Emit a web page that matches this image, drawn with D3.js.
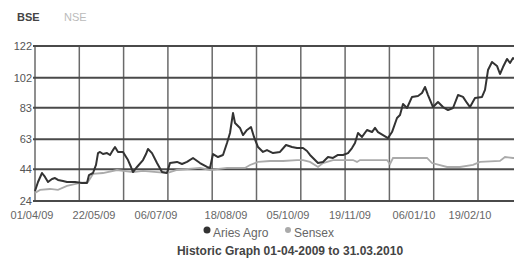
<!DOCTYPE html>
<html>
<head>
<meta charset="utf-8">
<script src="https://cdn.jsdelivr.net/npm/d3@7"></script>
<style>
  body { margin: 0; background: #fff; }
  svg { display: block; font-family: "Liberation Sans", Arial, sans-serif; }
</style>
</head>
<body>
<svg id="chart" width="514" height="259"></svg>
<script>
// trading-day index of each sample, and the value
const ariesIdx = [0,1.5,3.5,5,6.5,8.5,10,11.5,14,16,20,23.5,26,27,29,30.5,31.5,32.5,34,36,37.5,39,40,41.5,44,46.5,48,49,51,54,55.5,56.5,58.5,61,63.5,66,67.5,71,73.5,76,79,82.5,86,87.5,89,91.5,94,96,97.5,99,100,102.5,104,106,108,109.5,111.5,114,116,119,122.5,125.5,128.5,131,134,136,137.5,140,141.5,144,146.5,149,151.5,154,156.5,158.5,160,161.5,163.5,166,168.5,170,171.5,174,176.5,178.5,181,182.5,184,186,188.5,191.5,193.5,195,196.5,199,201.5,204,206.5,209,211.5,214,216,217.5,220,223.5,225,226.5,228.5,231,232.5,234,236,237.5,239,240.5];
const ariesVal = [30.3,36.0,41.7,39.2,36.0,37.9,38.5,37.3,36.6,36.0,36.0,35.4,35.4,40.4,41.7,46.8,54.3,55.0,53.7,54.3,53.1,56.2,58.1,55.0,55.0,49.9,45.5,42.3,45.5,49.9,53.7,56.9,54.3,48.0,42.3,41.7,48.0,48.7,47.4,48.7,51.2,48.0,45.5,44.9,53.7,51.8,53.1,60.7,67.0,79.6,73.3,70.2,65.7,68.9,70.8,64.5,58.1,55.0,56.2,54.3,55.0,59.4,58.1,57.5,57.5,55.6,53.1,49.9,48.0,48.7,51.8,51.2,53.1,53.1,54.3,57.5,60.7,67.0,64.5,68.9,67.6,70.2,67.6,65.7,63.8,67.6,76.5,78.4,85.3,82.8,89.8,90.4,92.3,96.1,91.0,83.4,86.6,83.4,81.5,82.8,91.0,89.8,86.0,83.4,89.1,89.8,94.2,106.8,111.9,109.4,104.3,108.7,113.8,111.3,114.4,113.1];

const sensexIdx = [0,2.5,7.5,11.5,16,22.5,26.5,29,34,41,49,54,61,66,71,82.5,87.5,96,105,107.5,111.5,117.5,124,131,134,137.5,141.5,144,149,159,161,162.5,176,177.5,179,192.5,196,198.5,206,212.5,219,222.5,232.5,235,239,240.5];
const sensexVal = [29.1,31.0,31.6,31.0,33.5,35.4,36.0,41.1,41.7,43.6,42.3,43.0,42.3,41.7,43.6,44.9,43.6,44.9,44.9,46.8,48.7,49.3,49.3,49.9,49.9,48.7,45.5,48.0,49.9,49.9,48.7,49.9,49.9,47.4,51.2,51.2,51.2,48.0,45.5,45.5,46.8,48.7,49.3,51.8,51.2,51.2];

const yTicks = [24, 44, 63, 83, 102, 122];
const xLabels = ['01/04/09', '22/05/09', '06/07/09', '18/08/09', '05/10/09', '19/11/09', '06/01/10', '19/02/10'];
const xLabelIdx = [0, 31, 62, 97, 128, 159, 191, 219];
const seriesNames = ['Aries Agro', 'Sensex'];
const tabs = ['BSE', 'NSE'];

const svg = d3.select('#chart');
const margin = { left: 35, top: 46, bottom: 201 };

const x = d3.scaleLinear().domain([0, 247]).range([margin.left, margin.left + 494]);
const y = d3.scaleLinear().domain([24, 122]).range([margin.bottom, margin.top]);

// tabs
svg.selectAll('text.tab').data(tabs).enter().append('text')
  .attr('class', 'tab')
  .attr('x', (d, i) => 17 + i * 47)
  .attr('y', 21)
  .attr('font-size', 11)
  .attr('font-weight', (d, i) => i == 0 ? 'bold' : 'normal')
  .attr('fill', (d, i) => i == 0 ? '#444' : '#bbb')
  .text(d => d);

// vertical grid
const vGrid = d3.range(0, 247, 22.15);
svg.append('g').selectAll('line').data(vGrid).enter().append('line')
  .attr('x1', d => x(d)).attr('x2', d => x(d))
  .attr('y1', y(122)).attr('y2', y(24))
  .attr('stroke', '#6a6a6a').attr('stroke-width', 1.5);

// horizontal grid
svg.append('g').selectAll('line').data(yTicks).enter().append('line')
  .attr('x1', x(0) - 2).attr('x2', 514)
  .attr('y1', d => y(d)).attr('y2', d => y(d))
  .attr('stroke', '#4a4a4a').attr('stroke-width', 2);

// y labels
svg.append('g').selectAll('text').data(yTicks).enter().append('text')
  .attr('x', 32).attr('y', d => y(d) + 4)
  .attr('text-anchor', 'end')
  .attr('font-size', 11)
  .attr('fill', '#555')
  .text(d => d);

// x labels
svg.append('g').selectAll('text').data(xLabels).enter().append('text')
  .attr('x', (d, i) => x(xLabelIdx[i]) - 3)
  .attr('y', 219)
  .attr('text-anchor', 'middle')
  .attr('font-size', 11)
  .attr('fill', '#666')
  .text(d => d);

const line = d3.line()
  .x(d => x(d[0]))
  .y(d => y(d[1]));

svg.append('path')
  .datum(d3.zip(sensexIdx, sensexVal))
  .attr('fill', 'none')
  .attr('stroke', '#aaa')
  .attr('stroke-width', 1.8)
  .attr('d', line);

svg.append('path')
  .datum(d3.zip(ariesIdx, ariesVal))
  .attr('fill', 'none')
  .attr('stroke', '#333')
  .attr('stroke-width', 2)
  .attr('stroke-linejoin', 'round')
  .attr('d', line);

// legend
const legendColors = ['#333', '#aaa'];
const legendX = [207, 288];
const legendR = [3.5, 3];
const leg = svg.append('g');
seriesNames.forEach((name, i) => {
  leg.append('circle').attr('cx', legendX[i]).attr('cy', 230).attr('r', legendR[i]).attr('fill', legendColors[i]);
  leg.append('text').attr('x', legendX[i] + 6).attr('y', 237)
    .attr('font-size', 12).attr('fill', '#666').text(name);
});

svg.append('text')
  .attr('x', 290).attr('y', 255)
  .attr('text-anchor', 'middle')
  .attr('font-size', 12)
  .attr('font-weight', 'bold')
  .attr('fill', '#444')
  .text('Historic Graph 01-04-2009 to 31.03.2010');
</script>
</body>
</html>
